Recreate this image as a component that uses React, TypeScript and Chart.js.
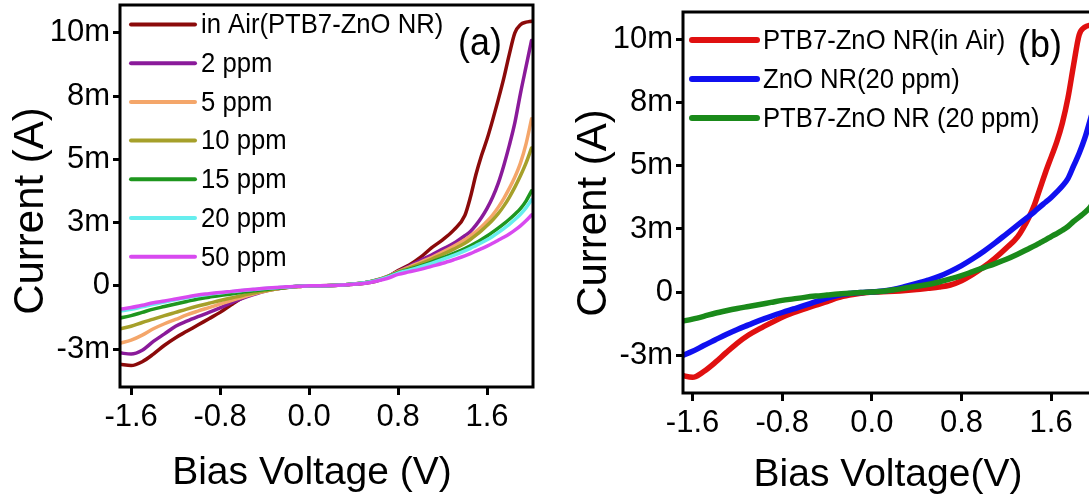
import React, { useEffect, useRef } from 'react';
import { Chart, registerables } from 'chart.js';

Chart.register(...registerables);

const FONT = "'Liberation Sans', Arial, Helvetica, sans-serif";

// ---------- data ----------
const VOLTAGE = [
  -1.7, -1.6, -1.5, -1.4, -1.3, -1.2, -1.1, -1.0, -0.9, -0.8, -0.7, -0.6, -0.5, -0.4, -0.3, -0.2, -0.1,
  0,
  0.1, 0.2, 0.3, 0.4, 0.5, 0.6, 0.7, 0.8, 0.9, 1.0, 1.1, 1.2, 1.3, 1.4,
  1.45, 1.5, 1.55, 1.6, 1.65, 1.7, 1.75, 1.8, 1.85, 1.9, 1.95, 2.0,
];

// Panel (a) currents in mA
const A_IN_AIR = [
  -3.1, -3.15, -3.0, -2.7, -2.35, -2.05, -1.8, -1.55, -1.3, -1.05, -0.75, -0.48, -0.32, -0.2, -0.12, -0.06, -0.02,
  0,
  0.005, 0.015, 0.03, 0.06, 0.1, 0.18, 0.34, 0.6, 0.82, 1.12, 1.5, 1.82, 2.2, 2.78,
  3.5, 4.4, 5.15, 5.8, 6.55, 7.35, 8.2, 9.15, 10.0, 10.32, 10.42, 10.46,
];
const A_2PPM = [
  -2.65, -2.7, -2.55, -2.2, -1.9, -1.6, -1.4, -1.22, -1.05, -0.87, -0.68, -0.5, -0.35, -0.22, -0.13, -0.07, -0.03,
  0,
  0.005, 0.015, 0.035, 0.07, 0.12, 0.22, 0.36, 0.57, 0.78, 1.0, 1.22, 1.45, 1.68, 1.98,
  2.15, 2.4, 2.7, 3.06, 3.5, 4.05, 4.75, 5.55, 6.45, 7.6, 8.65, 9.7,
];
const A_5PPM = [
  -2.27, -2.15, -1.95, -1.7, -1.5, -1.33, -1.15, -1.0, -0.86, -0.72, -0.58, -0.45, -0.33, -0.22, -0.13, -0.07, -0.03,
  0,
  0.005, 0.015, 0.035, 0.07, 0.12, 0.22, 0.36, 0.56, 0.74, 0.93, 1.12, 1.33, 1.56, 1.82,
  1.97, 2.14, 2.33, 2.55, 2.8, 3.1, 3.45, 3.85, 4.3, 4.85, 5.6, 6.6,
];
const A_10PPM = [
  -1.7, -1.6, -1.45, -1.32, -1.18, -1.05, -0.92, -0.8, -0.69, -0.58, -0.48, -0.38, -0.29, -0.2, -0.13, -0.07, -0.03,
  0,
  0.005, 0.015, 0.035, 0.07, 0.12, 0.21, 0.35, 0.54, 0.7, 0.87, 1.05, 1.24, 1.45, 1.68,
  1.83, 2.0, 2.18, 2.38, 2.6, 2.85, 3.15, 3.5, 3.9, 4.35, 4.85, 5.45,
];
const A_15PPM = [
  -1.27, -1.18, -1.05, -0.92, -0.82, -0.72, -0.62, -0.52, -0.45, -0.38, -0.32, -0.26, -0.2, -0.15, -0.1, -0.06, -0.02,
  0,
  0.005, 0.015, 0.035, 0.07, 0.12, 0.21, 0.34, 0.52, 0.65, 0.79, 0.94, 1.1, 1.28, 1.47,
  1.58, 1.7, 1.83, 1.97, 2.12, 2.28, 2.45, 2.63, 2.83, 3.05, 3.35, 3.75,
];
const A_20PPM = [
  -1.0, -0.93, -0.83, -0.73, -0.64, -0.55, -0.47, -0.39, -0.33, -0.28, -0.23, -0.19, -0.15, -0.11, -0.08, -0.05, -0.02,
  0,
  0.005, 0.015, 0.035, 0.07, 0.12, 0.2, 0.33, 0.5, 0.62, 0.75, 0.89, 1.04, 1.2, 1.38,
  1.48, 1.59, 1.7, 1.82, 1.95, 2.1, 2.26, 2.43, 2.62, 2.83, 3.08, 3.4,
];
const A_50PPM = [
  -0.93, -0.86, -0.77, -0.67, -0.6, -0.52, -0.44, -0.36, -0.31, -0.26, -0.22, -0.18, -0.14, -0.1, -0.07, -0.04, -0.02,
  0,
  0.005, 0.015, 0.03, 0.06, 0.1, 0.18, 0.29, 0.45, 0.55, 0.65, 0.77, 0.89, 1.03, 1.18,
  1.27, 1.37, 1.47, 1.57, 1.68, 1.8, 1.92, 2.05, 2.2, 2.37, 2.57, 2.8,
];

// Panel (b) currents in mA
const B_PTB7_AIR = [
  -3.3, -3.38, -3.15, -2.8, -2.4, -2.02, -1.7, -1.45, -1.22, -1.0, -0.82, -0.67, -0.52, -0.38, -0.22, -0.12, -0.05,
  0,
  0.01, 0.03, 0.06, 0.1, 0.15, 0.2, 0.28, 0.45, 0.7, 1.0, 1.35, 1.75, 2.19, 2.95,
  3.45, 4.1, 4.75, 5.35, 5.95, 6.7, 7.7, 9.0, 10.2, 10.5, 10.58, 10.6,
];
const B_ZNO_20 = [
  -2.53, -2.35, -2.12, -1.9, -1.68, -1.48, -1.3, -1.12, -0.96, -0.81, -0.67, -0.53, -0.38, -0.24, -0.13, -0.06, -0.02,
  0,
  0.04, 0.11, 0.22, 0.34, 0.47, 0.62, 0.82, 1.05, 1.32, 1.62, 1.95, 2.3, 2.65, 3.0,
  3.18, 3.38, 3.56, 3.75, 3.97, 4.2, 4.5, 5.0, 5.5, 6.1, 6.85, 7.6,
];
const B_PTB7_20 = [
  -1.16, -1.07, -0.96, -0.84, -0.74, -0.65, -0.57, -0.49, -0.41, -0.33, -0.27, -0.21, -0.16, -0.12, -0.08, -0.05, -0.02,
  0,
  0.03, 0.09, 0.16, 0.23, 0.3, 0.4, 0.52, 0.65, 0.81, 0.97, 1.13, 1.3, 1.5, 1.72,
  1.83, 1.95, 2.07, 2.2, 2.32, 2.45, 2.6, 2.8, 2.97, 3.15, 3.38, 3.75,
];

const A_LABELS = ['in Air(PTB7-ZnO NR)', '2 ppm', '5 ppm', '10 ppm', '15 ppm', '20 ppm', '50 ppm'];
const B_LABELS = ['PTB7-ZnO NR(in Air)', 'ZnO NR(20 ppm)', 'PTB7-ZnO NR (20 ppm)'];

const X_TICK_VALUES = [-1.6, -0.8, 0, 0.8, 1.6];
const X_TICK_LABELS = ['-1.6', '-0.8', '0.0', '0.8', '1.6'];
const Y_TICK_VALUES = [-2.5, 0, 2.5, 5, 7.5, 10];
const Y_TICK_LABELS = ['-3m', '0', '3m', '5m', '8m', '10m'];

// ---------- panel specs (layout/style) ----------
type Spec = {
  series: { label: string; data: number[]; color: string }[];
  width: number;
  height: number;
  area: { left: number; top: number; right: number; bottom: number };
  xMin: number;
  xMax: number;
  yMin: number;
  yMax: number;
  lineWidth: number;
  legend: { x1: number; x2: number; textX: number; y0: number; dy: number; lineWidth: number; size: number; sx: number };
  tag: { text: string; x: number; y: number; size: number; sx: number };
  xTitle: { text: string; x: number; y: number; size: number };
  yTitle: { text: string; x: number; y: number; size: number };
};

const SPEC_A: Spec = {
  series: [
    { label: A_LABELS[0], data: A_IN_AIR, color: '#8B0A0A' },
    { label: A_LABELS[1], data: A_2PPM, color: '#8A1A9A' },
    { label: A_LABELS[2], data: A_5PPM, color: '#F4A66A' },
    { label: A_LABELS[3], data: A_10PPM, color: '#A6A02A' },
    { label: A_LABELS[4], data: A_15PPM, color: '#1E961E' },
    { label: A_LABELS[5], data: A_20PPM, color: '#66EEEE' },
    { label: A_LABELS[6], data: A_50PPM, color: '#D84AF0' },
  ],
  width: 545,
  height: 498,
  area: { left: 120, top: 5, right: 533, bottom: 387 },
  xMin: -1.7,
  xMax: 2.013,
  yMin: -4.0,
  yMax: 11.1,
  lineWidth: 3.5,
  legend: { x1: 131, x2: 195, textX: 201, y0: 24.5, dy: 38.7, lineWidth: 4, size: 28.5, sx: 0.9 },
  tag: { text: '(a)', x: 480, y: 44, size: 39, sx: 0.92 },
  xTitle: { text: 'Bias Voltage (V)', x: 312, y: 473, size: 39 },
  yTitle: { text: 'Current (A)', x: 31, y: 211, size: 42 },
};

const SPEC_B: Spec = {
  series: [
    { label: B_LABELS[0], data: B_PTB7_AIR, color: '#E01010' },
    { label: B_LABELS[1], data: B_ZNO_20, color: '#1010F0' },
    { label: B_LABELS[2], data: B_PTB7_20, color: '#1A8A1A' },
  ],
  width: 570,
  height: 498,
  area: { left: 138, top: 12, right: 551, bottom: 393 },
  xMin: -1.685,
  xMax: 2.0,
  yMin: -4.0,
  yMax: 11.1,
  lineWidth: 5.5,
  legend: { x1: 147, x2: 212, textX: 218, y0: 40, dy: 39, lineWidth: 6, size: 28.5, sx: 0.9 },
  tag: { text: '(b)', x: 495, y: 46, size: 39, sx: 0.92 },
  xTitle: { text: 'Bias Voltage(V)', x: 343, y: 475, size: 39 },
  yTitle: { text: 'Current (A)', x: 49, y: 213, size: 42 },
};

function squishText(ctx: CanvasRenderingContext2D, text: string, x: number, y: number, sx: number) {
  ctx.save();
  ctx.translate(x, y);
  ctx.scale(sx, 1);
  ctx.fillText(text, 0, 0);
  ctx.restore();
}

function Panel({ spec, left }: { spec: Spec; left: number }) {
  const ref = useRef<HTMLCanvasElement | null>(null);

  useEffect(() => {
    const canvas = ref.current;
    if (!canvas) return;
    const s = spec;

    const decor = {
      id: 'decor',
      afterDatasetsDraw(chart: any) {
        const { ctx, chartArea } = chart;
        ctx.save();
        ctx.strokeStyle = '#000';
        ctx.lineWidth = 3;
        ctx.strokeRect(chartArea.left, chartArea.top, chartArea.right - chartArea.left, chartArea.bottom - chartArea.top);
        ctx.restore();
      },
      afterDraw(chart: any) {
        const { ctx } = chart;
        ctx.save();
        // legend
        const lg = s.legend;
        s.series.forEach((ser, i) => {
          const y = lg.y0 + lg.dy * i;
          ctx.strokeStyle = ser.color;
          ctx.lineWidth = lg.lineWidth;
          ctx.lineCap = 'round';
          ctx.beginPath();
          ctx.moveTo(lg.x1, y);
          ctx.lineTo(lg.x2, y);
          ctx.stroke();
          ctx.fillStyle = '#000';
          ctx.font = `${lg.size}px ${FONT}`;
          ctx.textAlign = 'left';
          ctx.textBaseline = 'middle';
          squishText(ctx, ser.label, lg.textX, y + 1, lg.sx);
        });
        // panel tag
        ctx.fillStyle = '#000';
        ctx.font = `${s.tag.size}px ${FONT}`;
        ctx.textAlign = 'center';
        ctx.textBaseline = 'middle';
        squishText(ctx, s.tag.text, s.tag.x, s.tag.y, s.tag.sx);
        // x title
        ctx.font = `${s.xTitle.size}px ${FONT}`;
        ctx.fillText(s.xTitle.text, s.xTitle.x, s.xTitle.y);
        // y title
        ctx.translate(s.yTitle.x, s.yTitle.y);
        ctx.rotate(-Math.PI / 2);
        ctx.font = `${s.yTitle.size}px ${FONT}`;
        ctx.fillText(s.yTitle.text, 0, 0);
        ctx.restore();
      },
    };

    const chart = new Chart(canvas, {
      type: 'line',
      data: {
        datasets: s.series.map((ser, i) => ({
          label: ser.label,
          data: VOLTAGE.map((v, k) => ({ x: v, y: ser.data[k] })),
          borderColor: ser.color,
          backgroundColor: ser.color,
          borderWidth: s.lineWidth,
          pointRadius: 0,
          fill: false,
          cubicInterpolationMode: 'monotone',
          order: s.series.length - 1 - i,
        })),
      },
      options: {
        responsive: false,
        animation: false,
        devicePixelRatio: 1,
        layout: { padding: { left: 0, top: s.area.top, right: s.width - s.area.right, bottom: 0 } },
        plugins: { legend: { display: false }, tooltip: { enabled: false }, title: { display: false } },
        elements: { line: { borderCapStyle: 'round', borderJoinStyle: 'round' } },
        scales: {
          x: {
            type: 'linear',
            min: s.xMin,
            max: s.xMax,
            afterFit: (sc: any) => {
              sc.height = s.height - s.area.bottom;
              sc.paddingLeft = 0;
              sc.paddingRight = 0;
            },
            afterBuildTicks: (sc: any) => {
              sc.ticks = X_TICK_VALUES.map((v) => ({ value: v }));
            },
            ticks: {
              callback: (_v: any, i: number) => X_TICK_LABELS[i],
              font: { family: FONT, size: 31 },
              color: '#000',
              padding: 4,
              maxRotation: 0,
              autoSkip: false,
            },
            grid: { drawOnChartArea: false, drawTicks: true, tickLength: 8, tickWidth: 3, tickColor: '#000', color: '#000' },
            border: { display: false },
          },
          y: {
            type: 'linear',
            min: s.yMin,
            max: s.yMax,
            afterFit: (sc: any) => {
              sc.width = s.area.left;
              sc.paddingTop = 0;
              sc.paddingBottom = 0;
            },
            afterBuildTicks: (sc: any) => {
              sc.ticks = Y_TICK_VALUES.map((v) => ({ value: v }));
            },
            ticks: {
              callback: (_v: any, i: number) => Y_TICK_LABELS[i],
              font: { family: FONT, size: 31 },
              color: '#000',
              padding: 3,
              autoSkip: false,
            },
            grid: { drawOnChartArea: false, drawTicks: true, tickLength: 7, tickWidth: 3, tickColor: '#000', color: '#000' },
            border: { display: false },
          },
        },
      } as any,
      plugins: [decor],
    });
    return () => chart.destroy();
  }, [spec]);

  return (
    <canvas
      ref={ref}
      width={spec.width}
      height={spec.height}
      style={{ position: 'absolute', left, top: 0, width: spec.width, height: spec.height, display: 'block' }}
    />
  );
}

export default function App() {
  return (
    <div
      style={{
        position: 'absolute',
        left: 0,
        top: 0,
        width: 1089,
        height: 498,
        overflow: 'hidden',
        background: '#fff',
      }}
    >
      <Panel spec={SPEC_A} left={0} />
      <Panel spec={SPEC_B} left={545} />
    </div>
  );
}
